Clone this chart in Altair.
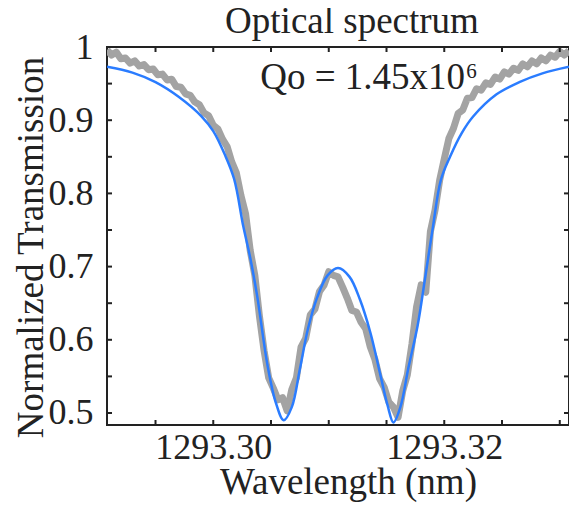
import altair as alt
import pandas as pd

# ---------------- data ----------------
meas_wl = [
    1293.2908, 1293.2912, 1293.2916, 1293.2920, 1293.2924, 1293.2928, 1293.2932, 1293.2936, 1293.2940, 1293.2944,
    1293.2948, 1293.2952, 1293.2956, 1293.2960, 1293.2964, 1293.2968, 1293.2972, 1293.2976, 1293.2980, 1293.2984,
    1293.2988, 1293.2992, 1293.2996, 1293.3000, 1293.3004, 1293.3008, 1293.3012, 1293.3016, 1293.3020, 1293.3024,
    1293.3028, 1293.3032, 1293.3036, 1293.3040, 1293.3044, 1293.3048, 1293.3052, 1293.3056, 1293.3060, 1293.3064,
    1293.3068, 1293.3072, 1293.3076, 1293.3080, 1293.3084, 1293.3088, 1293.3092, 1293.3096, 1293.3100, 1293.3104,
    1293.3108, 1293.3112, 1293.3116, 1293.3120, 1293.3124, 1293.3128, 1293.3132, 1293.3136, 1293.3140, 1293.3144,
    1293.3148, 1293.3152, 1293.3156, 1293.3160, 1293.3164, 1293.3168, 1293.3172, 1293.3176, 1293.3180, 1293.3184,
    1293.3188, 1293.3192, 1293.3196, 1293.3200, 1293.3204, 1293.3208, 1293.3212, 1293.3216, 1293.3220, 1293.3224,
    1293.3228, 1293.3232, 1293.3236, 1293.3240, 1293.3244, 1293.3248, 1293.3252, 1293.3256, 1293.3260, 1293.3264,
    1293.3268, 1293.3272, 1293.3276, 1293.3280, 1293.3284, 1293.3288, 1293.3292, 1293.3296, 1293.3300, 1293.3304,
    1293.3308,
]
meas_tr = [
    0.996, 0.989, 0.993, 0.984, 0.985, 0.978, 0.981, 0.974, 0.976, 0.969,
    0.970, 0.962, 0.963, 0.955, 0.956, 0.946, 0.945, 0.936, 0.934, 0.925,
    0.921, 0.910, 0.906, 0.893, 0.888, 0.874, 0.864, 0.843, 0.828, 0.797,
    0.772, 0.722, 0.688, 0.632, 0.585, 0.548, 0.534, 0.518, 0.521, 0.503,
    0.532, 0.548, 0.590, 0.602, 0.634, 0.642, 0.666, 0.675, 0.693, 0.688,
    0.686, 0.672, 0.657, 0.640, 0.638, 0.624, 0.615, 0.590, 0.573, 0.547,
    0.535, 0.515, 0.508, 0.494, 0.530, 0.552, 0.594, 0.645, 0.675, 0.665,
    0.748, 0.777, 0.818, 0.847, 0.875, 0.889, 0.909, 0.914, 0.930, 0.931,
    0.943, 0.941, 0.951, 0.949, 0.959, 0.956, 0.966, 0.963, 0.971, 0.968,
    0.977, 0.973, 0.981, 0.977, 0.985, 0.981, 0.989, 0.986, 0.994, 0.989,
    0.995,
]

fit_wl = [
    1293.2908, 1293.2930, 1293.2950, 1293.2970, 1293.2990, 1293.3000, 1293.3010, 1293.3018,
    1293.3026, 1293.3032, 1293.3038, 1293.3047, 1293.3054, 1293.3061, 1293.3068, 1293.3075,
    1293.3082, 1293.3090, 1293.3099, 1293.3108, 1293.3118, 1293.3127, 1293.3136, 1293.3145,
    1293.3151, 1293.3156, 1293.3162, 1293.3169, 1293.3177, 1293.3183, 1293.3190, 1293.3197,
    1293.3205, 1293.3215, 1293.3225, 1293.3245, 1293.3265, 1293.3285, 1293.3308,
]
fit_tr = [
    0.973, 0.965, 0.952, 0.932, 0.905, 0.885, 0.853, 0.820,
    0.755, 0.712, 0.660, 0.565, 0.515, 0.490, 0.508, 0.560,
    0.615, 0.658, 0.688, 0.698, 0.686, 0.655, 0.610, 0.550,
    0.510, 0.487, 0.508, 0.562, 0.620, 0.680, 0.752, 0.818,
    0.850, 0.882, 0.905, 0.935, 0.952, 0.964, 0.973,
]

x_label_values = [1293.30, 1293.32]
x_minor_ticks = [1293.295, 1293.300, 1293.305, 1293.310, 1293.315, 1293.320, 1293.325, 1293.330]
y_label_values = [0.5, 0.6, 0.7, 0.8, 0.9, 1.0]
y_minor_ticks = [0.5, 0.55, 0.6, 0.65, 0.7, 0.75, 0.8, 0.85, 0.9, 0.95, 1.0]

chart_title = "Optical spectrum"
annot_main = "Qo = 1.45x10"
annot_sup = "6"

# ---------------- chart ----------------
W, H = 462, 378
FONT = "Liberation Serif"
TXT = "#222222"

xscale = alt.Scale(domain=[1293.2908, 1293.3308], nice=False, zero=False)
yscale = alt.Scale(domain=[0.4836, 1.0], nice=False, zero=False)

meas_df = pd.DataFrame({"wl": meas_wl, "tr": meas_tr})
fit_df = pd.DataFrame({"wl": fit_wl, "tr": fit_tr})

x_enc = alt.X(
    "wl:Q", scale=xscale,
    axis=alt.Axis(
        title="Wavelength (nm)", values=x_label_values, format=".2f",
        titleX=241, titleY=68, titleBaseline="alphabetic", titleAlign="center",
    ),
)
y_enc = alt.Y(
    "tr:Q", scale=yscale,
    axis=alt.Axis(
        title="Normalized Transmission", values=y_label_values, format=".1~f",
        titleX=-65, titleY=200, titleBaseline="alphabetic", titleAlign="center",
        labelPadding=14,
    ),
)

meas = alt.Chart(meas_df).mark_line(
    color="#a3a3a3", strokeWidth=7, clip=True, strokeJoin="round"
).encode(x=x_enc, y=y_enc)

fit = alt.Chart(fit_df).mark_line(
    color="#2a7cff", strokeWidth=2.5, clip=True, interpolate="catmull-rom"
).encode(x=alt.X("wl:Q", scale=xscale), y=alt.Y("tr:Q", scale=yscale))

xt_df = pd.DataFrame({"wl": x_minor_ticks})
yt_df = pd.DataFrame({"tr": y_minor_ticks})
TL = 5
tick_style = dict(color="#222222", strokeWidth=2)
xt_bottom = alt.Chart(xt_df).mark_rule(**tick_style).encode(
    x=alt.X("wl:Q", scale=xscale), y=alt.value(H), y2=alt.value(H - TL))
xt_top = alt.Chart(xt_df).mark_rule(**tick_style).encode(
    x=alt.X("wl:Q", scale=xscale), y=alt.value(0), y2=alt.value(TL))
yt_left = alt.Chart(yt_df).mark_rule(**tick_style).encode(
    y=alt.Y("tr:Q", scale=yscale), x=alt.value(0), x2=alt.value(TL))
yt_right = alt.Chart(yt_df).mark_rule(**tick_style).encode(
    y=alt.Y("tr:Q", scale=yscale), x=alt.value(W), x2=alt.value(W - TL))

ann_df = pd.DataFrame({"wl": [1293.30407], "tr": [0.942], "t": [annot_main]})
sup_df = pd.DataFrame({"wl": [1293.32191], "tr": [0.958], "t": [annot_sup]})
ann = alt.Chart(ann_df).mark_text(
    font=FONT, fontSize=37, color=TXT, align="left", baseline="alphabetic"
).encode(x=alt.X("wl:Q", scale=xscale), y=alt.Y("tr:Q", scale=yscale), text="t:N")
sup = alt.Chart(sup_df).mark_text(
    font=FONT, fontSize=21, color=TXT, align="left", baseline="alphabetic"
).encode(x=alt.X("wl:Q", scale=xscale), y=alt.Y("tr:Q", scale=yscale), text="t:N")

title_df = pd.DataFrame({"t": [chart_title]})
title_mark = alt.Chart(title_df).mark_text(
    font=FONT, fontSize=37, color=TXT, align="center", baseline="alphabetic"
).encode(x=alt.value(245), y=alt.value(-14), text="t:N")

chart = alt.layer(
    meas, fit, xt_bottom, xt_top, yt_left, yt_right, ann, sup, title_mark
).properties(
    width=W, height=H,
    autosize=alt.AutoSizeParams(type="none"),
    padding={"left": 99, "top": 39, "right": 0, "bottom": 80},
).configure_view(
    stroke="#222222", strokeWidth=2
).configure_axis(
    grid=False, domain=False, ticks=False, tickSize=0,
    labelFont=FONT, labelFontSize=36, labelColor=TXT,
    titleFont=FONT, titleFontSize=37, titleColor=TXT, titleFontWeight="normal",
).configure_axisX(
    labelPadding=5,
)

chart.save("out.html", embed_options={"renderer": "svg", "actions": False})
